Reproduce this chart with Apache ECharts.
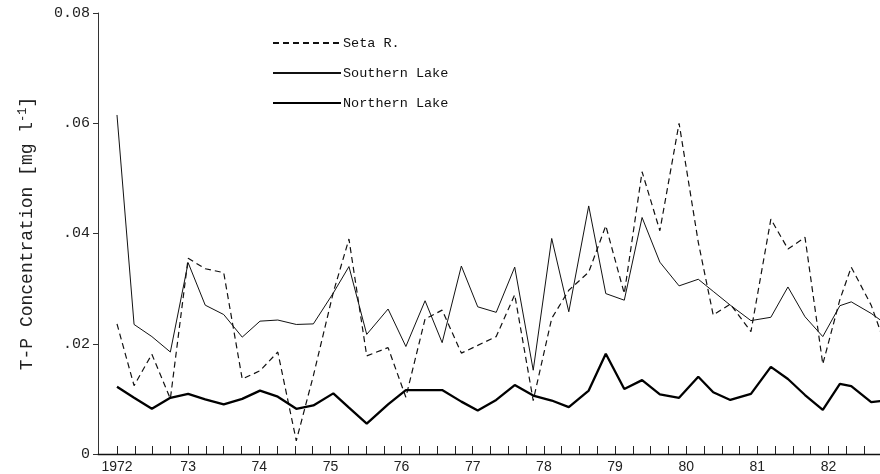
<!DOCTYPE html>
<html>
<head>
<meta charset="utf-8">
<script src="https://cdn.jsdelivr.net/npm/echarts@6/dist/echarts.min.js"></script>
<style>
html,body{margin:0;padding:0;background:#fff;}
#chart{width:880px;height:474px;}
</style>
</head>
<body>
<div id="chart"></div>
<script>
// sampling dates (decimal years)
var sampleYears = [1972.00,1972.24,1972.49,1972.75,1973.00,1973.24,1973.50,1973.76,1974.01,1974.26,1974.52,1974.76,1975.04,1975.26,1975.51,1975.81,1976.06,1976.33,1976.57,1976.84,1977.07,1977.33,1977.59,1977.85,1978.11,1978.35,1978.63,1978.87,1979.13,1979.38,1979.63,1979.90,1980.17,1980.38,1980.62,1980.91,1981.19,1981.43,1981.67,1981.92,1982.16,1982.32,1982.60,1982.87];
var setaR = [0.0236,0.0124,0.0181,0.0100,0.0355,0.0336,0.0329,0.0136,0.0151,0.0185,0.0024,0.0142,0.0293,0.0390,0.0178,0.0193,0.0103,0.0245,0.0261,0.0183,0.0197,0.0213,0.0289,0.0097,0.0246,0.0297,0.0330,0.0414,0.0291,0.0512,0.0405,0.0600,0.0384,0.0252,0.0272,0.0222,0.0426,0.0372,0.0393,0.0163,0.0280,0.0339,0.0270,0.0172];
var southernLake = [0.0615,0.0235,0.0213,0.0185,0.0347,0.0270,0.0253,0.0212,0.0241,0.0243,0.0235,0.0236,0.0292,0.0340,0.0217,0.0263,0.0195,0.0278,0.0202,0.0341,0.0267,0.0257,0.0339,0.0152,0.0391,0.0258,0.0450,0.0291,0.0279,0.0429,0.0348,0.0305,0.0317,0.0295,0.0270,0.0242,0.0248,0.0303,0.0249,0.0213,0.0269,0.0276,0.0255,0.0230];
var northernLake = [0.0122,0.0102,0.0082,0.0102,0.0109,0.0099,0.0090,0.0100,0.0115,0.0104,0.0082,0.0088,0.0110,0.0084,0.0055,0.0090,0.0116,0.0116,0.0116,0.0095,0.0079,0.0098,0.0125,0.0106,0.0097,0.0085,0.0115,0.0182,0.0118,0.0134,0.0108,0.0102,0.0140,0.0112,0.0098,0.0109,0.0158,0.0136,0.0107,0.0080,0.0127,0.0123,0.0094,0.0098];
var yearTicks = [1972,1973,1974,1975,1976,1977,1978,1979,1980,1981,1982];
var quarterTicks = [];
for (var q = 1972; q <= 1982.75; q += 0.25) quarterTicks.push(q);
var seriesNames = ['Seta R.', 'Southern Lake', 'Northern Lake'];

function pairs(vals) { return vals.map(function (v, i) { return [sampleYears[i], v]; }); }

var mono = 'Liberation Mono';
var chart = echarts.init(document.getElementById('chart'), null, {renderer: 'canvas'});
chart.setOption({
  animation: false,
  backgroundColor: '#fff',
  grid: {left: 98, right: 0, top: 13, bottom: 20, containLabel: false},
  legend: {
    orient: 'vertical', left: 272, top: 36, padding: 0, itemWidth: 68, itemHeight: 14, itemGap: 16,
    itemStyle: {opacity: 0},
    textStyle: {fontFamily: mono, fontSize: 13.5, color: '#111', padding: [0,0,0,-3]},
    data: seriesNames
  },
  xAxis: {
    type: 'value', min: 1971.733, max: 1982.724,
    axisLine: {show: true, onZero: false, lineStyle: {color: '#111', width: 1.3}},
    axisTick: {show: true, inside: true, length: 8, customValues: quarterTicks, lineStyle: {color: '#222', width: 1}},
    axisLabel: {show: true, customValues: yearTicks, margin: 6, fontFamily: 'Liberation Sans', fontSize: 14, color: '#222',
      formatter: function (v) { return v === 1972 ? '1972' : String(Math.round(v)).slice(2); }},
    splitLine: {show: false}
  },
  yAxis: {
    type: 'value', min: 0, max: 0.08, interval: 0.02,
    name: 'T-P Concentration [mg l{sup|-1}]', nameLocation: 'middle', nameGap: 60, nameRotate: 90,
    nameTextStyle: {fontFamily: mono, fontSize: 18, color: '#222', rich: {sup: {fontFamily: mono, fontSize: 12, verticalAlign: 'top', padding: [0,0,9,0], color: '#222'}}},
    axisLine: {show: true, lineStyle: {color: '#333', width: 1}},
    axisTick: {show: true, inside: false, length: 5, lineStyle: {color: '#333'}},
    axisLabel: {margin: 8, fontFamily: mono, fontSize: 15, color: '#222',
      formatter: function (v) { if (v === 0) return '0'; if (Math.abs(v - 0.08) < 1e-9) return '0.08'; return v.toFixed(2).slice(1); }},
    splitLine: {show: false}
  },
  series: [
    {name: seriesNames[0], type: 'line', data: pairs(setaR), symbol: 'none', showSymbol: false,
      lineStyle: {color: '#111', width: 1.2, type: [6, 4]}, itemStyle: {color: '#111'}},
    {name: seriesNames[1], type: 'line', data: pairs(southernLake), symbol: 'none', showSymbol: false,
      lineStyle: {color: '#111', width: 1}, itemStyle: {color: '#111'}},
    {name: seriesNames[2], type: 'line', data: pairs(northernLake), symbol: 'none', showSymbol: false,
      lineStyle: {color: '#000', width: 2.3}, itemStyle: {color: '#000'}}
  ]
});
</script>
</body>
</html>
